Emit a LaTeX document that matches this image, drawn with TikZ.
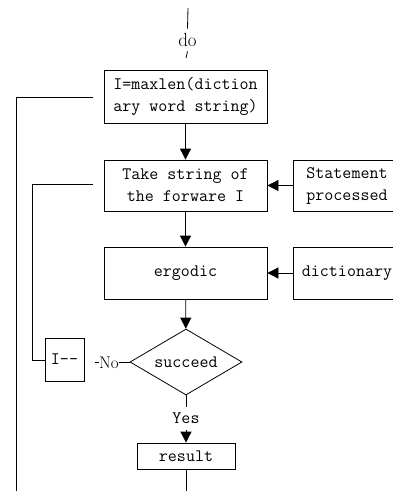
\documentclass[tikz,border=0pt]{standalone}
\usetikzlibrary{arrows.meta,shapes.geometric}
\begin{document}
\begin{tikzpicture}[x=1pt,y=-1pt,line width=0.8pt,
  every node/.style={font=\ttfamily\fontsize{17.5}{22}\selectfont},
  box/.style={draw,minimum width=163pt,inner sep=0pt,align=center},
  sidebox/.style={draw,minimum width=108pt,inner sep=0pt,align=center},
  arr/.style={-{Triangle[width=11pt,length=11pt]}},
  lbl/.style={fill=white,inner sep=1pt}]
\useasboundingbox (0,0) rectangle (392,491);
\node[box,minimum height=53pt] (b1) at (185.5,96.5) {I=maxlen(diction\\ary word string)};
\node[box,minimum height=51pt] (b2) at (185.5,185.5) {Take string of\\the forware I};
\node[box,minimum height=52pt] (b3) at (185.5,273) {ergodic};
\node[sidebox,minimum height=51pt] (st) at (347,185.5) {Statement\\processed};
\node[sidebox,minimum height=52pt] (dic) at (347,273) {dictionary};
\node[draw,diamond,aspect=1.7,minimum width=112pt,minimum height=66pt,inner sep=0pt] (dec) at (186,362) {succeed};
\node[draw,minimum width=39pt,minimum height=43pt,inner sep=0pt] (idec) at (64.5,359.5) {I{-}{-}};
\node[draw,minimum width=98pt,minimum height=26pt,inner sep=0pt] (res) at (186,456) {result};
\node[font=\rmfamily\fontsize{19}{20}\selectfont,minimum height=22pt,inner sep=0pt] (do) at (187.5,40) {do};
\node[font=\rmfamily\fontsize{17}{18}\selectfont,inner sep=0pt] (no) at (109,363) {No};
\node[minimum height=23pt,inner sep=0pt] (yes) at (186,418.5) {Yes};
\coordinate (top) at (188,8);
\coordinate (topend) at (186,58);
\coordinate (noend) at (95,362);
\coordinate (bot) at (186,491);
\coordinate (l1s) at (93,97);
\coordinate (l1c) at (16,97);
\coordinate (l1e) at (16,491);
\coordinate (l2s) at (93,184);
\coordinate (l2c) at (32,184);
\coordinate (l2d) at (32,360);
\draw (top) -- (do.north);
\draw (do.south) -- (topend);
\draw[arr] (b1) -- (b2);
\draw[arr] (b2) -- (b3);
\draw[arr] (b3) -- (dec);
\draw[arr] (st) -- (b2);
\draw[arr] (dic) -- (b3);
\draw (dec.west) -- (no.east |- dec.west);
\draw (no.west |- noend) -- (noend);
\draw (dec.south) -- (yes.north);
\draw[arr] (yes.south) -- (res.north);
\draw (res.south) -- (bot);
\draw (l1s) -- (l1c) -- (l1e);
\draw (l2s) -- (l2c) -- (l2d) -- (l2d -| idec.west);
\end{tikzpicture}
\end{document}
